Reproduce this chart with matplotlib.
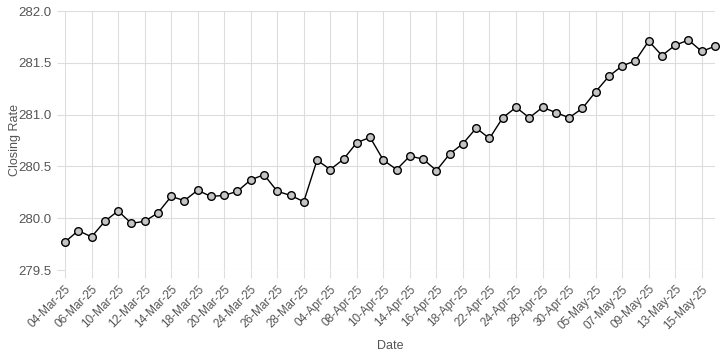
import matplotlib.pyplot as plt

plt.rcParams['font.family'] = ['Liberation Sans', 'DejaVu Sans']

dates = ['04-Mar-25', '05-Mar-25', '06-Mar-25', '07-Mar-25', '10-Mar-25', '11-Mar-25',
         '12-Mar-25', '13-Mar-25', '14-Mar-25', '17-Mar-25', '18-Mar-25', '19-Mar-25',
         '20-Mar-25', '21-Mar-25', '24-Mar-25', '25-Mar-25', '26-Mar-25', '27-Mar-25',
         '28-Mar-25', '03-Apr-25', '04-Apr-25', '07-Apr-25', '08-Apr-25', '09-Apr-25',
         '10-Apr-25', '11-Apr-25', '14-Apr-25', '15-Apr-25', '16-Apr-25', '17-Apr-25',
         '18-Apr-25', '21-Apr-25', '22-Apr-25', '23-Apr-25', '24-Apr-25', '25-Apr-25',
         '28-Apr-25', '29-Apr-25', '30-Apr-25', '02-May-25', '05-May-25', '06-May-25',
         '07-May-25', '08-May-25', '09-May-25', '12-May-25', '13-May-25', '14-May-25',
         '15-May-25', '16-May-25']

rates = [279.77, 279.88, 279.82, 279.97, 280.07, 279.95,
         279.97, 280.05, 280.21, 280.17, 280.27, 280.21,
         280.22, 280.26, 280.37, 280.42, 280.26, 280.22,
         280.16, 280.56, 280.47, 280.57, 280.73, 280.78,
         280.56, 280.47, 280.60, 280.57, 280.46, 280.62,
         280.72, 280.87, 280.77, 280.97, 281.07, 280.97,
         281.07, 281.02, 280.97, 281.06, 281.22, 281.37,
         281.47, 281.52, 281.71, 281.57, 281.67, 281.72,
         281.61, 281.66]

yticks = [279.5, 280.0, 280.5, 281.0, 281.5, 282.0]

fig = plt.figure(figsize=(7.2, 3.6), dpi=100)
ax = fig.add_axes([65 / 720, 90 / 360, 650 / 720, 259 / 360])

x = list(range(len(dates)))
ax.plot(x, rates, color='black', linewidth=1, marker='o', markersize=5.5,
        markerfacecolor='#c4c4c4', markeredgecolor='black', markeredgewidth=1,
        clip_on=False, zorder=3)

ax.set_xlim(0, len(dates) - 1)
ax.set_ylim(279.5, 282.0)
ax.set_yticks(yticks)
ax.set_yticklabels([f'{v:.1f}' for v in yticks])
ax.set_xticks(x[::2])
ax.set_xticklabels(dates[::2], rotation=45, ha='right', rotation_mode='anchor')

ax.grid(True, color='#dddddd', linewidth=0.8)
ax.set_axisbelow(True)
for s in ax.spines.values():
    s.set_visible(False)
ax.tick_params(axis='both', colors='#dddddd', labelcolor='#555555', labelsize=9.5,
               length=6, width=0.8)
ax.tick_params(axis='x', labelsize=8.5)

ax.set_xlabel('Date', color='#555555', fontsize=9, labelpad=6)
ax.set_ylabel('Closing Rate', color='#555555', fontsize=9)
ax.yaxis.set_label_coords(-0.068, 0.5)

fig.savefig('out.png', dpi=100)
